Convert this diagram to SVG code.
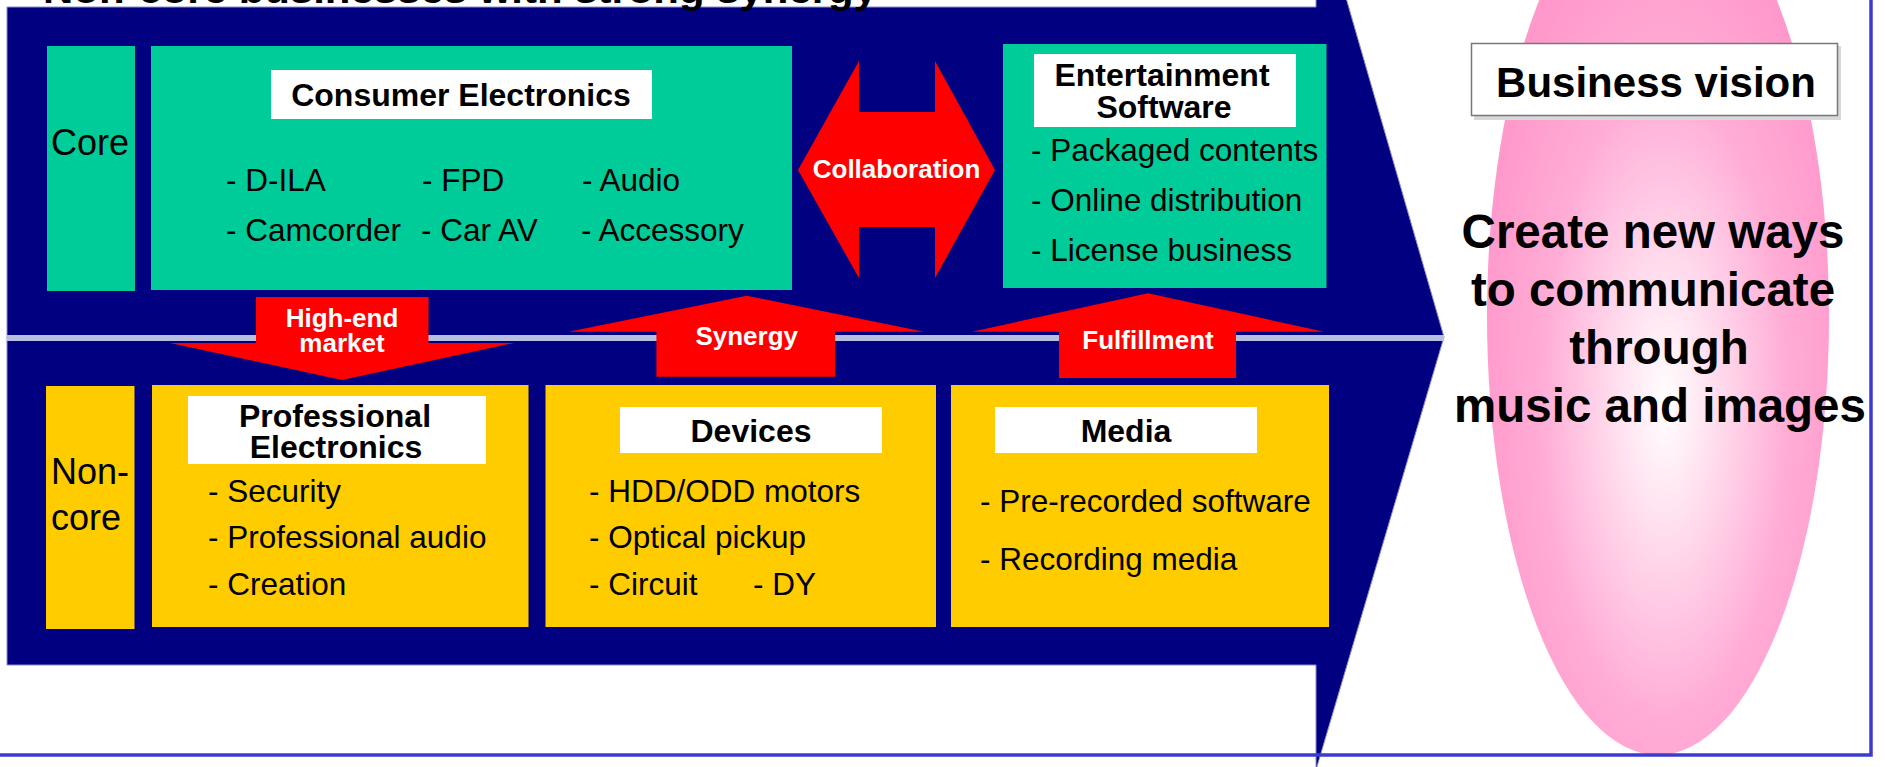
<svg xmlns="http://www.w3.org/2000/svg" width="1885" height="767" viewBox="0 0 1885 767">
<style>
text{font-family:"Liberation Sans",Arial,Helvetica,sans-serif;fill:#000}
.teal{fill:#00cc99}
.yel{fill:#ffcc00}
.wb{fill:#ffffff}
.red{fill:#ff0000}
.lab{font-size:36px}
.item{font-size:31.5px}
.ttl{font-size:32px;font-weight:bold;text-anchor:middle}
.arr{font-size:26px;font-weight:bold;text-anchor:middle;fill:#ffffff}
.vis{font-size:47.5px;font-weight:bold;text-anchor:middle}
.bv{font-size:42px;font-weight:bold;text-anchor:middle}
</style>
<defs>
<radialGradient id="pinkGrad" cx="0.52" cy="0.6" r="0.55">
<stop offset="0" stop-color="#ffffff"/>
<stop offset="0.25" stop-color="#ffe0ef"/>
<stop offset="0.65" stop-color="#ffadd6"/>
<stop offset="1" stop-color="#ff99cc"/>
</radialGradient>
</defs>
<rect x="0" y="0" width="1885" height="767" fill="#ffffff"/>

<!-- big navy arrow background -->
<polygon points="7,7 1316,7 1316,-106 1444,337 1316,770 1316,665 7,665" fill="#000080" stroke="#8c8cd0" stroke-width="1"/>
<rect x="7" y="335" width="1437" height="6" fill="#b8bedf"/>

<text x="43" y="3" font-size="38" font-weight="bold" textLength="834" lengthAdjust="spacingAndGlyphs">Non-core businesses with strong synergy</text>

<!-- vision ellipse -->
<g id="vision">
<ellipse cx="1658" cy="316" rx="171" ry="439" fill="url(#pinkGrad)"/>
<rect x="1474" y="46" width="367" height="74" fill="#d8d8d8"/>
<rect x="1471.5" y="43.5" width="366" height="72" fill="#ffffff" stroke="#777777" stroke-width="1.5"/>
<text class="bv" x="1656" y="97">Business vision</text>
<text class="vis" x="1653" y="248">Create new ways</text>
<text class="vis" x="1653" y="306">to communicate</text>
<text class="vis" x="1659" y="364">through</text>
<text class="vis" x="1660" y="422">music and images</text>
</g>

<!-- frame -->
<path d="M1871,0 V755 H0" fill="none" stroke="#3b3bd0" stroke-width="3.5"/>

<g id="core-label">
<rect class="teal" x="47" y="46" width="88" height="245"/>
<text class="lab" x="51" y="155">Core</text>
</g>

<g id="consumer-electronics">
<rect class="teal" x="151" y="46" width="641" height="244"/>
<rect class="wb" x="271" y="70" width="381" height="49"/>
<text class="ttl" x="461" y="106">Consumer Electronics</text>
<text class="item" x="226" y="191">- D-ILA</text>
<text class="item" x="422" y="191">- FPD</text>
<text class="item" x="582" y="191">- Audio</text>
<text class="item" x="226" y="241">- Camcorder</text>
<text class="item" x="421" y="241">- Car AV</text>
<text class="item" x="581" y="241">- Accessory</text>
</g>

<g id="entertainment-software">
<rect class="teal" x="1003" y="44" width="323.5" height="244"/>
<rect class="wb" x="1034" y="54" width="262" height="73"/>
<text class="ttl" x="1162" y="86">Entertainment</text>
<text class="ttl" x="1164" y="118">Software</text>
<text class="item" x="1031" y="161">- Packaged contents</text>
<text class="item" x="1031" y="211">- Online distribution</text>
<text class="item" x="1031" y="261">- License business</text>
</g>

<g id="noncore-label">
<rect class="yel" x="46" y="386" width="88.5" height="243"/>
<text class="lab" x="51" y="484">Non-</text>
<text class="lab" x="51" y="530">core</text>
</g>

<g id="professional-electronics">
<rect class="yel" x="152" y="385" width="376.5" height="242"/>
<rect class="wb" x="188" y="396" width="298" height="68"/>
<text class="ttl" x="335" y="427">Professional</text>
<text class="ttl" x="336" y="458">Electronics</text>
<text class="item" x="208" y="502">- Security</text>
<text class="item" x="208" y="548">- Professional audio</text>
<text class="item" x="208" y="595">- Creation</text>
</g>

<g id="devices">
<rect class="yel" x="545.5" y="385" width="390.5" height="242"/>
<rect class="wb" x="620" y="407" width="262" height="46"/>
<text class="ttl" x="751" y="442">Devices</text>
<text class="item" x="589" y="502">- HDD/ODD motors</text>
<text class="item" x="589" y="548">- Optical pickup</text>
<text class="item" x="589" y="595">- Circuit</text>
<text class="item" x="753" y="595">- DY</text>
</g>

<g id="media">
<rect class="yel" x="951" y="385" width="378" height="242"/>
<rect class="wb" x="995" y="407" width="262" height="46"/>
<text class="ttl" x="1126" y="442">Media</text>
<text class="item" x="980" y="512">- Pre-recorded software</text>
<text class="item" x="980" y="570">- Recording media</text>
</g>

<g id="connectors">
<g id="collaboration">
<polygon class="red" points="798,170 859,61 859,112 935,112 935,61 995,170 935,278 935,227 859,227 859,278"/>
<text class="arr" x="896.5" y="178">Collaboration</text>
</g>
<g id="high-end-market">
<polygon class="red" points="256,297 428.5,297 428.5,343 514,343 342,380 170,343 256,343"/>
<text class="arr" x="342" y="327">High-end</text>
<text class="arr" x="342" y="352">market</text>
</g>
<g id="synergy">
<polygon class="red" points="746.7,295.7 924,331.7 835,331.7 835,376.7 656.4,376.7 656.4,331.7 568.5,331.7"/>
<text class="arr" x="746.7" y="345">Synergy</text>
</g>
<g id="fulfillment">
<polygon class="red" points="1148,293.3 1324,331.7 1236,331.7 1236,378 1059,378 1059,331.7 972,331.7"/>
<text class="arr" x="1148" y="349">Fulfillment</text>
</g>
</g>
</svg>
